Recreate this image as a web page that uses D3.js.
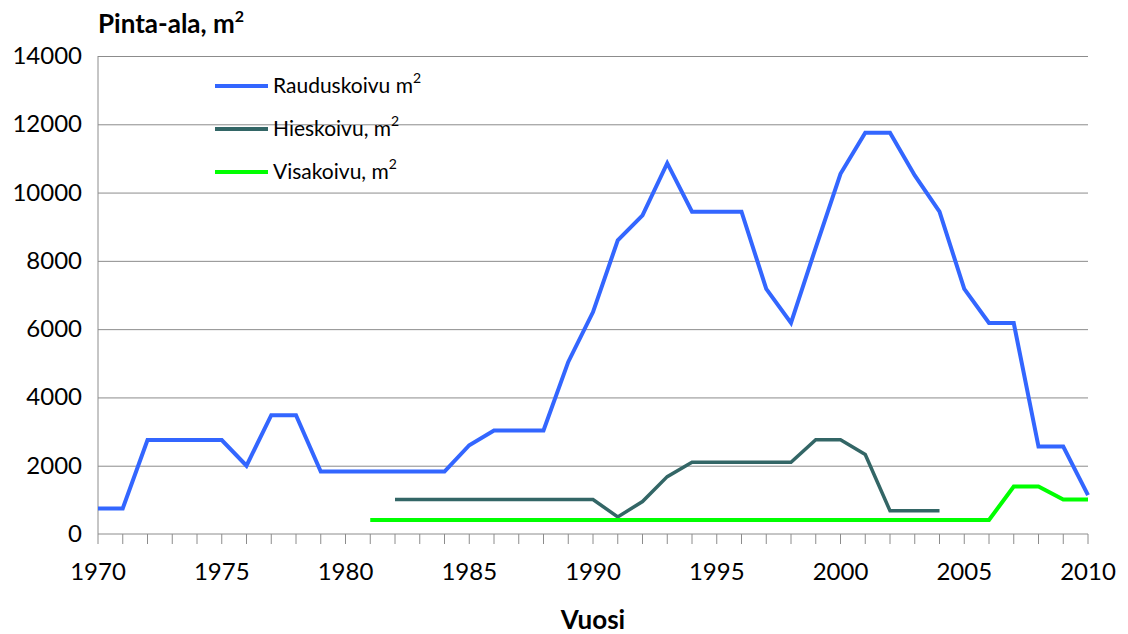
<!DOCTYPE html>
<meta charset="utf-8">
<style>
    body { margin: 0; background: #fff; }
    svg { font-family: Lato, "Open Sans", sans-serif; }
    .line { fill: none; stroke-linejoin: miter; }
    .grid line { stroke: #8c8c8c; stroke-width: 1; }
    .grid .domain { display: none; }
</style>
<body>

<script src="https://d3js.org/d3.v7.min.js"></script>
<script>
    // years 1970..2010
    var years = d3.range(1970, 2011);
    var rauduskoivu = [750, 750, 2750, 2750, 2750, 2750, 2000, 3480, 3480, 1830,
        1830, 1830, 1830, 1830, 1830, 2600, 3030, 3030, 3030, 5040,
        6500, 8600, 9330, 10860, 9440, 9440, 9440, 7180, 6180, 8390,
        10550, 11750, 11750, 10500, 9440, 7180, 6180, 6180, 2560, 2560,
        1140];
    var hieskoivu = [null, null, null, null, null, null, null, null, null, null,
        null, null, 1010, 1010, 1010, 1010, 1010, 1010, 1010, 1010,
        1010, 500, 950, 1680, 2100, 2100, 2100, 2100, 2100, 2760,
        2760, 2330, 680, 680, 680, null, null, null, null, null,
        null];
    var visakoivu = [null, null, null, null, null, null, null, null, null, null,
        null, 410, 410, 410, 410, 410, 410, 410, 410, 410,
        410, 410, 410, 410, 410, 410, 410, 410, 410, 410,
        410, 410, 410, 410, 410, 410, 410, 1390, 1390, 1010,
        1010];
    var seriesNames = ["Rauduskoivu m", "Hieskoivu, m", "Visakoivu, m"];
    var yTicks = [0, 2000, 4000, 6000, 8000, 10000, 12000, 14000];
    var xLabels = [1970, 1975, 1980, 1985, 1990, 1995, 2000, 2005, 2010];

    var margin = {top: 56, right: 40, bottom: 100, left: 98},
        width = 1128 - margin.left - margin.right,
        height = 634 - margin.top - margin.bottom;

    var svg = d3.select("body").append("svg")
        .attr("width", 1128)
        .attr("height", 634)
      .append("g")
        .attr("transform", "translate(" + margin.left + "," + margin.top + ")");

    var x = d3.scaleLinear().domain([1970, 2010]).range([0, width]);
    var y = d3.scaleLinear().domain([0, 14000]).range([height, 0]);

    // gridlines
    svg.append("g")
        .attr("class", "grid")
        .call(d3.axisLeft(y).tickValues(yTicks.slice(1)).tickSize(-width).tickFormat(""));

    // y labels
    svg.selectAll(".ylab").data(yTicks).enter().append("text")
        .attr("x", -16)
        .attr("y", d => y(d) + 8)
        .attr("text-anchor", "end")
        .attr("font-size", 24)
        .attr("fill", "#000")
        .text(d => d);

    // axes lines
    svg.append("line").attr("x1", 0).attr("x2", 0).attr("y1", 0).attr("y2", height)
        .attr("stroke", "#8c8c8c");
    svg.append("line").attr("x1", 0).attr("x2", width).attr("y1", height).attr("y2", height)
        .attr("stroke", "#8c8c8c");
    svg.selectAll(".xtick").data(years).enter().append("line")
        .attr("x1", d => x(d)).attr("x2", d => x(d))
        .attr("y1", height).attr("y2", height + 10)
        .attr("stroke", "#8c8c8c");

    svg.selectAll(".xlab").data(xLabels).enter().append("text")
        .attr("x", d => x(d))
        .attr("y", height + 46)
        .attr("text-anchor", "middle")
        .attr("font-size", 24)
        .text(d => d);

    svg.append("text")
        .attr("x", width / 2)
        .attr("y", height + 95)
        .attr("text-anchor", "middle")
        .attr("font-size", 26)
        .attr("font-weight", "bold")
        .text("Vuosi");

    var title = svg.append("text")
        .attr("x", 0)
        .attr("y", -23)
        .attr("font-size", 26)
        .attr("font-weight", "bold");
    title.append("tspan").text("Pinta-ala, m");
    title.append("tspan").attr("font-size", 16).attr("dy", -11).text("2");

    var line = d3.line()
        .defined(d => d.v != null)
        .x(d => x(d.year))
        .y(d => y(d.v));

    var series = [
        {name: seriesNames[0], values: rauduskoivu, color: "#3366ff", w: 4},
        {name: seriesNames[1], values: hieskoivu, color: "#336666", w: 3.5},
        {name: seriesNames[2], values: visakoivu, color: "#00ff00", w: 4}
    ];

    series.forEach(s => {
        svg.append("path")
            .datum(years.map((yr, i) => ({year: yr, v: s.values[i]})))
            .attr("class", "line")
            .attr("stroke", s.color)
            .attr("stroke-width", s.w)
            .attr("d", line);
    });

    var legend = svg.append("g").attr("transform", "translate(117,30)");
    series.forEach((s, i) => {
        var row = legend.append("g").attr("transform", "translate(0," + (i * 43) + ")");
        row.append("line").attr("x1", 0).attr("x2", 53).attr("y1", 0).attr("y2", 0)
            .attr("stroke", s.color).attr("stroke-width", 4);
        var t = row.append("text").attr("x", 58).attr("y", 7).attr("font-size", 21);
        t.append("tspan").text(s.name);
        t.append("tspan").attr("font-size", 14).attr("dy", -10).text("2");
    });
</script>

</body>
</html>
